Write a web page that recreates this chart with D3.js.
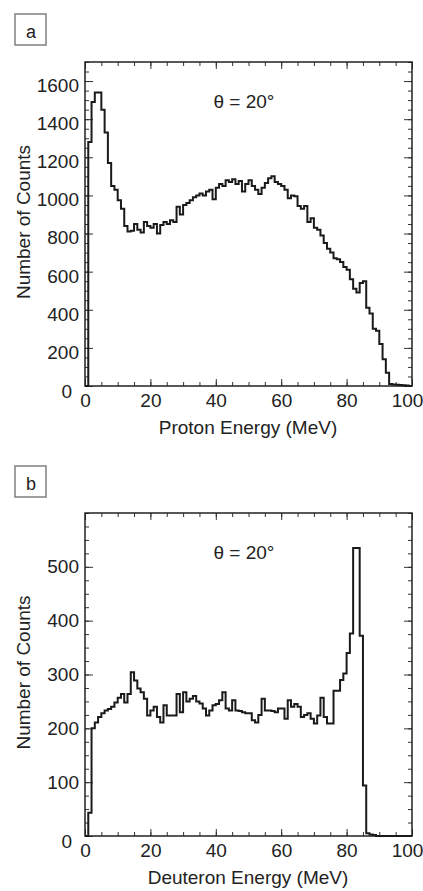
<!DOCTYPE html>
<html>
<head>
<meta charset="utf-8">
<script src="https://cdn.jsdelivr.net/npm/d3@7"></script>
<style>
body { margin: 0; background: #fff; }
text { font-family: "Liberation Sans", Arial, sans-serif; fill: #222; }
</style>
</head>
<body>
<script>
// lower edges of the 1 MeV energy bins
var energies = d3.range(0, 100);

// panel a - protons, counts per bin
var protonCounts = [
    0, 1280, 1490, 1540, 1540, 1450, 1330, 1170, 1050, 1030,
    975, 930, 840, 810, 815, 850, 820, 805, 860, 840,
    830, 850, 800, 845, 860, 850, 870, 860, 940, 900,
    950, 960, 975, 990, 1000, 1010, 1000, 1020, 1030, 980,
    1040, 1060, 1050, 1080, 1070, 1085, 1060, 1075, 1020, 1060,
    1080, 1050, 1030, 1008, 1040, 1065, 1090, 1100, 1070, 1060,
    1050, 1030, 985, 1000, 995, 945, 930, 945, 860, 880,
    830, 820, 790, 750, 720, 700, 670, 665, 650, 625,
    610, 560, 510, 490, 540, 550, 410, 380, 300, 290,
    220, 140, 70, 10, 8, 6, 5, 4, 2, 0
];

// panel b - deuterons, counts per bin
var deuteronCounts = [
    0, 43, 200, 211, 221, 228, 233, 236, 240, 248,
    257, 264, 248, 264, 304, 289, 274, 267, 255, 224,
    233, 240, 221, 211, 243, 224, 224, 224, 264, 230,
    267, 250, 255, 260, 250, 246, 237, 224, 233, 243,
    245, 252, 267, 237, 233, 252, 233, 232, 230, 228,
    228, 215, 211, 225, 255, 233, 233, 232, 230, 237,
    237, 218, 252, 240, 245, 240, 221, 225, 228, 218,
    209, 224, 257, 221, 209, 209, 270, 270, 290, 302,
    340, 376, 535, 535, 372, 94, 5, 3, 2, 0,
    0, 0, 0, 0, 0, 0, 0, 0, 0, 0
];

var xMajorTicks = [0, 20, 40, 60, 80, 100];
var xMinorTicks = d3.range(0, 101, 5);
var protonYTicks = [0, 200, 400, 600, 800, 1000, 1200, 1400, 1600];
var protonYMinor = d3.range(0, 1701, 50);
var deuteronYTicks = [0, 100, 200, 300, 400, 500];
var deuteronYMinor = d3.range(0, 601, 25);

var svg = d3.select("body").append("svg")
    .attr("width", 423)
    .attr("height", 891);

function drawPanel(p) {
    var x = d3.scaleLinear().domain([0, 100]).range([85, 412]);
    var y = d3.scaleLinear().domain([0, p.yMax]).range([p.bottom, p.top]);
    var g = svg.append("g");

    // panel letter in its small box
    g.append("rect")
        .attr("x", 15).attr("y", p.boxY)
        .attr("width", 31).attr("height", 31)
        .attr("fill", "none")
        .attr("stroke", "#808080")
        .attr("stroke-width", 1.5);
    g.append("text")
        .attr("x", 31).attr("y", p.boxY + 24)
        .attr("text-anchor", "middle")
        .attr("font-size", 18)
        .text(p.letter);

    // ticks, all pointing inward
    function tickAxis(axis, tr, values, len, labels) {
        var a = axis.tickValues(values).tickSize(-len);
        a.tickFormat(labels ? d3.format("d") : "");
        var ag = g.append("g").attr("transform", tr).call(a);
        ag.select(".domain").remove();
        ag.selectAll("line").attr("stroke", "#333");
        return ag;
    }
    var bx = "translate(0," + p.bottom + ")";
    var tx = "translate(0," + p.top + ")";
    tickAxis(d3.axisBottom(x), bx, xMinorTicks, 4, false);
    tickAxis(d3.axisTop(x), tx, xMinorTicks, 4, false);
    tickAxis(d3.axisTop(x), tx, xMajorTicks, 7, false);
    var xa = tickAxis(d3.axisBottom(x).tickPadding(8), bx, xMajorTicks, 7, true);
    xa.selectAll("text").attr("font-size", 19).attr("fill", "#222");
    xa.selectAll("text").filter(function(d) { return d === 100; }).attr("dx", -5);

    tickAxis(d3.axisLeft(y), "translate(85,0)", p.yMinor, 4, false);
    tickAxis(d3.axisRight(y), "translate(412,0)", p.yMinor, 4, false);
    tickAxis(d3.axisRight(y), "translate(412,0)", p.yTicks, 8, false);
    var ya = tickAxis(d3.axisLeft(y).tickPadding(6), "translate(85,0)", p.yTicks, 8, true);
    ya.selectAll("text").attr("font-size", 19).attr("fill", "#222").attr("dy", p.labelDy);
    ya.selectAll("text").filter(function(d) { return d === 0; })
        .attr("dx", -7).attr("dy", "0.6em");

    // frame
    g.append("rect")
        .attr("x", 85).attr("y", p.top)
        .attr("width", 412 - 85).attr("height", p.bottom - p.top)
        .attr("fill", "none")
        .attr("stroke", "#222")
        .attr("stroke-width", 1.5);

    // histogram as a step line
    var pts = energies.map(function(e, i) { return [e, p.counts[i]]; });
    pts.push([100, p.counts[p.counts.length - 1]]);
    var line = d3.line()
        .x(function(d) { return x(d[0]); })
        .y(function(d) { return y(d[1]); })
        .curve(d3.curveStepAfter);
    g.append("path")
        .datum(pts)
        .attr("d", line)
        .attr("fill", "none")
        .attr("stroke", "#1a1a1a")
        .attr("stroke-width", 2);

    // angle label
    g.append("text")
        .attr("x", 244).attr("y", p.top + 46)
        .attr("text-anchor", "middle")
        .attr("font-size", 19)
        .text("\u03b8 = 20\u00b0");

    // axis titles
    g.append("text")
        .attr("x", 248).attr("y", p.bottom + 48)
        .attr("text-anchor", "middle")
        .attr("font-size", 19)
        .text(p.xTitle);
    g.append("text")
        .attr("transform", "translate(30," + ((p.top + p.bottom) / 2 - 2) + ") rotate(-90)")
        .attr("text-anchor", "middle")
        .attr("font-size", 19)
        .text("Number of Counts");
}

drawPanel({
    letter: "a", boxY: 14,
    top: 62, bottom: 386, yMax: 1700,
    yTicks: protonYTicks, yMinor: protonYMinor, labelDy: "0.55em",
    counts: protonCounts, xTitle: "Proton Energy (MeV)"
});

drawPanel({
    letter: "b", boxY: 466,
    top: 513, bottom: 836, yMax: 600,
    yTicks: deuteronYTicks, yMinor: deuteronYMinor, labelDy: "0.32em",
    counts: deuteronCounts, xTitle: "Deuteron Energy (MeV)"
});
</script>
</body>
</html>
